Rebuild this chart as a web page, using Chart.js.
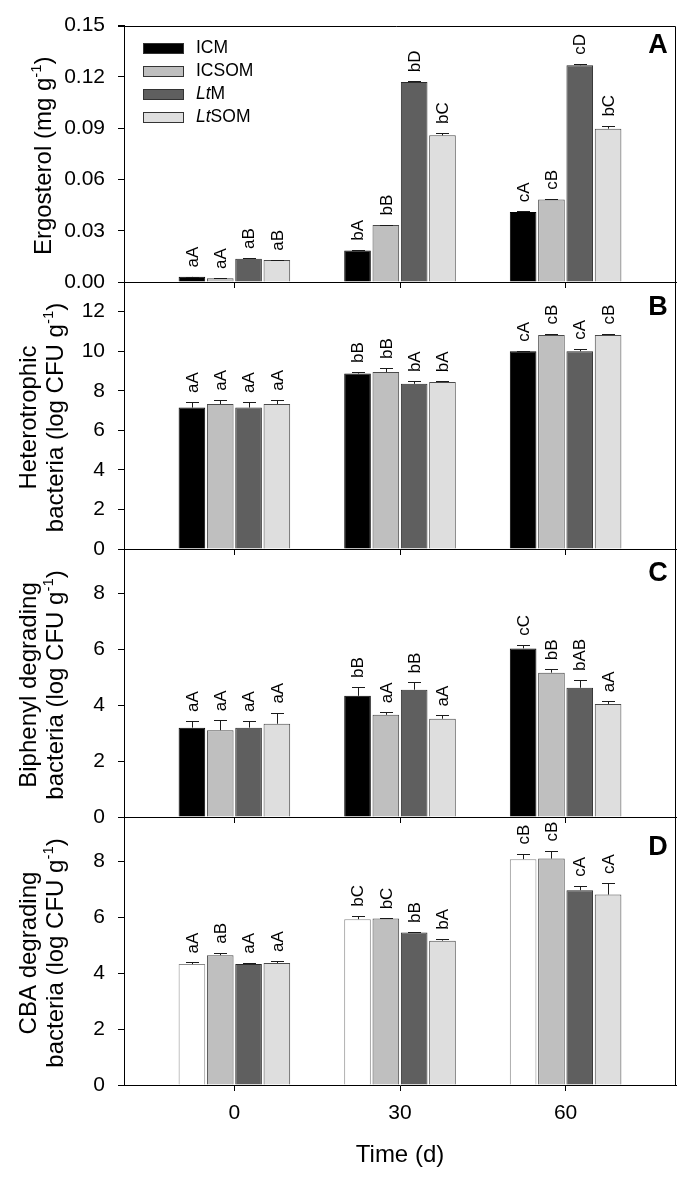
<!DOCTYPE html>
<html>
<head>
<meta charset="utf-8">
<script src="https://cdn.jsdelivr.net/npm/chart.js@4.4.0/dist/chart.umd.min.js"></script>
<style>
html,body{margin:0;padding:0;background:#fff;}
#wrap{position:relative;width:685px;height:1181px;overflow:hidden;background:#fff;}
#wrap canvas{position:absolute;left:0;top:0;}
</style>
</head>
<body>
<div id="wrap">
<canvas id="cA" width="685" height="1181"></canvas>
<canvas id="cB" width="685" height="1181"></canvas>
<canvas id="cC" width="685" height="1181"></canvas>
<canvas id="cD" width="685" height="1181"></canvas>
</div>
<script>
// ---------------- DATA ----------------
const days = [0, 30, 60];
const xTicks = [0, 30, 60];
const seriesNames = ['ICM', 'ICSOM', 'LtM', 'LtSOM'];

// Panel A: Ergosterol (mg g-1)
const ergTicks = [0, 0.03, 0.06, 0.09, 0.12, 0.15];
const ergICM = [0.0030, 0.0185, 0.0410];
const ergICSOM = [0.0022, 0.0333, 0.0483];
const ergLtM = [0.0136, 0.1170, 0.1268];
const ergLtSOM = [0.0128, 0.0858, 0.0897];
const ergICMErr = [0.0002, 0.0004, 0.0004];
const ergICSOMErr = [0.0002, 0.0003, 0.0004];
const ergLtMErr = [0.0005, 0.0004, 0.0009];
const ergLtSOMErr = [0.0002, 0.0014, 0.0018];
const ergICMSig = ['aA', 'bA', 'cA'];
const ergICSOMSig = ['aA', 'bB', 'cB'];
const ergLtMSig = ['aB', 'bD', 'cD'];
const ergLtSOMSig = ['aB', 'bC', 'bC'];

// Panel B: Heterotrophic bacteria (log CFU g-1)
const hetTicks = [0, 2, 4, 6, 8, 10, 12];
const hetICM = [7.15, 8.87, 10.00];
const hetICSOM = [7.33, 8.95, 10.82];
const hetLtM = [7.15, 8.35, 10.00];
const hetLtSOM = [7.33, 8.45, 10.82];
const hetICMErr = [0.28, 0.08, 0.02];
const hetICSOMErr = [0.22, 0.20, 0.07];
const hetLtMErr = [0.28, 0.14, 0.13];
const hetLtSOMErr = [0.22, 0.03, 0.07];
const hetICMSig = ['aA', 'bB', 'cA'];
const hetICSOMSig = ['aA', 'bB', 'cB'];
const hetLtMSig = ['aA', 'bA', 'cA'];
const hetLtSOMSig = ['aA', 'bA', 'cB'];

// Panel C: Biphenyl degrading bacteria (log CFU g-1)
const biTicks = [0, 2, 4, 6, 8];
const biICM = [3.20, 4.34, 6.04];
const biICSOM = [3.11, 3.66, 5.17];
const biLtM = [3.20, 4.56, 4.63];
const biLtSOM = [3.34, 3.52, 4.05];
const biICMErr = [0.24, 0.32, 0.13];
const biICSOMErr = [0.36, 0.09, 0.12];
const biLtMErr = [0.24, 0.26, 0.28];
const biLtSOMErr = [0.40, 0.12, 0.10];
const biICMSig = ['aA', 'bB', 'cC'];
const biICSOMSig = ['aA', 'aA', 'bB'];
const biLtMSig = ['aA', 'bB', 'bAB'];
const biLtSOMSig = ['aA', 'aA', 'aA'];

// Panel D: CBA degrading bacteria (log CFU g-1)
const cbaTicks = [0, 2, 4, 6, 8];
const cbaICM = [4.33, 5.94, 8.09];
const cbaICSOM = [4.65, 5.96, 8.11];
const cbaLtM = [4.33, 5.46, 6.98];
const cbaLtSOM = [4.37, 5.17, 6.82];
const cbaICMErr = [0.06, 0.12, 0.20];
const cbaICSOMErr = [0.09, 0.01, 0.29];
const cbaLtMErr = [0.05, 0.02, 0.16];
const cbaLtSOMErr = [0.07, 0.07, 0.42];
const cbaICMSig = ['aA', 'bC', 'cB'];
const cbaICSOMSig = ['aB', 'bC', 'cB'];
const cbaLtMSig = ['aA', 'bB', 'cA'];
const cbaLtSOMSig = ['aA', 'bA', 'cA'];

// ---------------- STYLE / LAYOUT ----------------
const FONT = '"Liberation Sans", Arial, Helvetica, sans-serif';
const W = 685, H = 1181;
const PLOT_LEFT = 124, PLOT_RIGHT = 676;
const X_AXIS_H = 60;
const fillStd = ['#000000', '#bfbfbf', '#5f5f5f', '#dedede'];
const strokeStd = ['#000000', '#4a4a4a', '#2a2a2a', '#4a4a4a'];
const fillD = ['#ffffff', '#bfbfbf', '#5f5f5f', '#dedede'];
const strokeD = ['#8a8a8a', '#4a4a4a', '#2a2a2a', '#4a4a4a'];

const panels = [
  { id: 'cA', top: 17, bottom: 282, max: 0.15, ticks: ergTicks, dec: 2, letter: 'A', letterY: 46,
    values: [ergICM, ergICSOM, ergLtM, ergLtSOM],
    errs: [ergICMErr, ergICSOMErr, ergLtMErr, ergLtSOMErr],
    sigs: [ergICMSig, ergICSOMSig, ergLtMSig, ergLtSOMSig],
    title: [[{t: 'Ergosterol (mg g'}, {t: '-1', sup: true}, {t: ')'}]], titleX: [51],
    fill: fillStd, stroke: strokeStd, legend: true, xLabels: false },
  { id: 'cB', top: 282, bottom: 549, max: 13.5, ticks: hetTicks, dec: 0, letter: 'B', letterY: 308,
    values: [hetICM, hetICSOM, hetLtM, hetLtSOM],
    errs: [hetICMErr, hetICSOMErr, hetLtMErr, hetLtSOMErr],
    sigs: [hetICMSig, hetICSOMSig, hetLtMSig, hetLtSOMSig],
    title: [[{t: 'Heterotrophic'}], [{t: 'bacteria (log CFU g'}, {t: '-1', sup: true}, {t: ')'}]], titleX: [35.5, 62.5],
    fill: fillStd, stroke: strokeStd, legend: false, xLabels: false },
  { id: 'cC', top: 549, bottom: 817, max: 9.6, ticks: biTicks, dec: 0, letter: 'C', letterY: 574,
    values: [biICM, biICSOM, biLtM, biLtSOM],
    errs: [biICMErr, biICSOMErr, biLtMErr, biLtSOMErr],
    sigs: [biICMSig, biICSOMSig, biLtMSig, biLtSOMSig],
    title: [[{t: 'Biphenyl degrading'}], [{t: 'bacteria (log CFU g'}, {t: '-1', sup: true}, {t: ')'}]], titleX: [35.5, 62.5],
    fill: fillStd, stroke: strokeStd, legend: false, xLabels: false },
  { id: 'cD', top: 817, bottom: 1085, max: 9.6, ticks: cbaTicks, dec: 0, letter: 'D', letterY: 848,
    values: [cbaICM, cbaICSOM, cbaLtM, cbaLtSOM],
    errs: [cbaICMErr, cbaICSOMErr, cbaLtMErr, cbaLtSOMErr],
    sigs: [cbaICMSig, cbaICSOMSig, cbaLtMSig, cbaLtSOMSig],
    title: [[{t: 'CBA degrading'}], [{t: 'bacteria (log CFU g'}, {t: '-1', sup: true}, {t: ')'}]], titleX: [35.5, 62.5],
    fill: fillD, stroke: strokeD, legend: false, xLabels: true }
];

const legendSegs = [
  [{t: 'ICM'}],
  [{t: 'ICSOM'}],
  [{t: 'Lt', it: true}, {t: 'M'}],
  [{t: 'Lt', it: true}, {t: 'SOM'}]
];

function drawRich(ctx, segs, size, centered) {
  const parts = segs.map(s => {
    const f = (s.it ? 'italic ' : '') + (s.sup ? (size * 0.62).toFixed(1) : size) + 'px ' + FONT;
    ctx.font = f;
    return { t: s.t, sup: s.sup, f: f, w: ctx.measureText(s.t).width };
  });
  const total = parts.reduce((a, b) => a + b.w, 0);
  let x = centered ? -total / 2 : 0;
  parts.forEach(pt => {
    ctx.font = pt.f;
    ctx.fillText(pt.t, x, pt.sup ? -size * 0.40 : 0);
    x += pt.w;
  });
}

function makeDecor(p) {
  return {
    id: 'decor_' + p.id,
    afterDatasetsDraw(chart) {
      const ctx = chart.ctx;
      const ys = chart.scales.y;
      const area = chart.chartArea;
      ctx.save();
      // error bars + significance letters
      p.values.forEach((vals, s) => {
        const meta = chart.getDatasetMeta(s);
        meta.data.forEach((bar, i) => {
          const topPx = ys.getPixelForValue(vals[i] + p.errs[s][i]);
          const x = Math.round(bar.x) + 0.5;
          const cy = Math.round(topPx) + 0.5;
          ctx.strokeStyle = '#1a1a1a';
          ctx.lineWidth = 1;
          ctx.beginPath();
          ctx.moveTo(x, bar.y);
          ctx.lineTo(x, cy);
          ctx.moveTo(x - 6.5, cy);
          ctx.lineTo(x + 6.5, cy);
          ctx.stroke();
          ctx.save();
          ctx.translate(bar.x + 1, topPx - 9);
          ctx.rotate(-Math.PI / 2);
          ctx.fillStyle = '#000';
          ctx.textAlign = 'left';
          ctx.textBaseline = 'middle';
          ctx.font = '17px ' + FONT;
          ctx.fillText(p.sigs[s][i], 0, 0);
          ctx.restore();
        });
      });
      // frame: top + right
      ctx.strokeStyle = '#000';
      ctx.lineWidth = 1;
      ctx.beginPath();
      ctx.moveTo(Math.round(area.left) - 6, Math.round(area.top) + 0.5);
      ctx.lineTo(Math.round(area.right) - 0.5, Math.round(area.top) + 0.5);
      ctx.lineTo(Math.round(area.right) - 0.5, Math.round(area.bottom) + 0.5);
      ctx.stroke();
      // panel letter
      ctx.fillStyle = '#000';
      ctx.font = 'bold 27px ' + FONT;
      ctx.textAlign = 'center';
      ctx.textBaseline = 'middle';
      ctx.fillText(p.letter, 658, p.letterY);
      // y title
      const cyT = (area.top + area.bottom) / 2 + 2;
      p.title.forEach((line, k) => {
        ctx.save();
        ctx.translate(p.titleX[k], cyT);
        ctx.rotate(-Math.PI / 2);
        ctx.textAlign = 'left';
        ctx.textBaseline = 'alphabetic';
        ctx.fillStyle = '#000';
        drawRich(ctx, line, 24, true);
        ctx.restore();
      });
      // legend
      if (p.legend) {
        const rowsY = [48.5, 71.5, 94.5, 117.5];
        rowsY.forEach((ry, k) => {
          ctx.fillStyle = p.fill[k];
          ctx.fillRect(143, ry - 5.5, 41, 11);
          ctx.strokeStyle = '#333';
          ctx.strokeRect(143.5, Math.round(ry - 5.5) + 0.5, 40, 10);
          ctx.fillStyle = '#000';
          ctx.textAlign = 'left';
          ctx.textBaseline = 'middle';
          ctx.save();
          ctx.translate(196, ry);
          drawRich(ctx, legendSegs[k], 17.5, false);
          ctx.restore();
        });
      }
      // x title
      if (p.xLabels) {
        ctx.fillStyle = '#000';
        ctx.font = '24px ' + FONT;
        ctx.textAlign = 'center';
        ctx.textBaseline = 'middle';
        ctx.fillText('Time (d)', (area.left + area.right) / 2, 1155);
      }
      ctx.restore();
    }
  };
}

function makeChart(p) {
  const datasets = seriesNames.map((name, s) => ({
    label: name,
    data: days.map((d, i) => ({ x: d, y: p.values[s][i] })),
    backgroundColor: p.fill[s],
    borderColor: p.stroke[s],
    borderWidth: 1,
    categoryPercentage: 0.684,
    barPercentage: 0.94
  }));
  return new Chart(document.getElementById(p.id), {
    type: 'bar',
    data: { datasets: datasets },
    options: {
      responsive: false,
      devicePixelRatio: 1,
      animation: false,
      events: [],
      layout: { padding: { left: 0, right: W - PLOT_RIGHT, top: p.top, bottom: H - p.bottom - X_AXIS_H } },
      plugins: { legend: { display: false }, tooltip: { enabled: false } },
      scales: {
        x: {
          type: 'linear',
          min: -20,
          max: 80,
          offset: false,
          afterBuildTicks: (sc) => { sc.ticks = xTicks.map(v => ({ value: v })); },
          afterFit: (sc) => { sc.height = X_AXIS_H; },
          grid: { display: true, offset: false, drawOnChartArea: false, drawTicks: true, tickLength: 6, tickColor: '#000', tickWidth: 1 },
          border: { display: true, color: '#000', width: 1 },
          ticks: { display: p.xLabels, padding: 10, color: '#000', font: { family: FONT, size: 21 }, callback: (v) => String(v) }
        },
        y: {
          type: 'linear',
          min: 0,
          max: p.max,
          afterBuildTicks: (sc) => { sc.ticks = p.ticks.map(v => ({ value: v })); },
          afterFit: (sc) => { sc.width = PLOT_LEFT; },
          grid: { display: true, drawOnChartArea: false, drawTicks: true, tickLength: 6, tickColor: '#000', tickWidth: 1 },
          border: { display: true, color: '#000', width: 1 },
          ticks: { padding: 13, color: '#000', font: { family: FONT, size: 21 }, callback: (v) => Number(v).toFixed(p.dec) }
        }
      }
    },
    plugins: [makeDecor(p)]
  });
}

panels.forEach(makeChart);
</script>
</body>
</html>
